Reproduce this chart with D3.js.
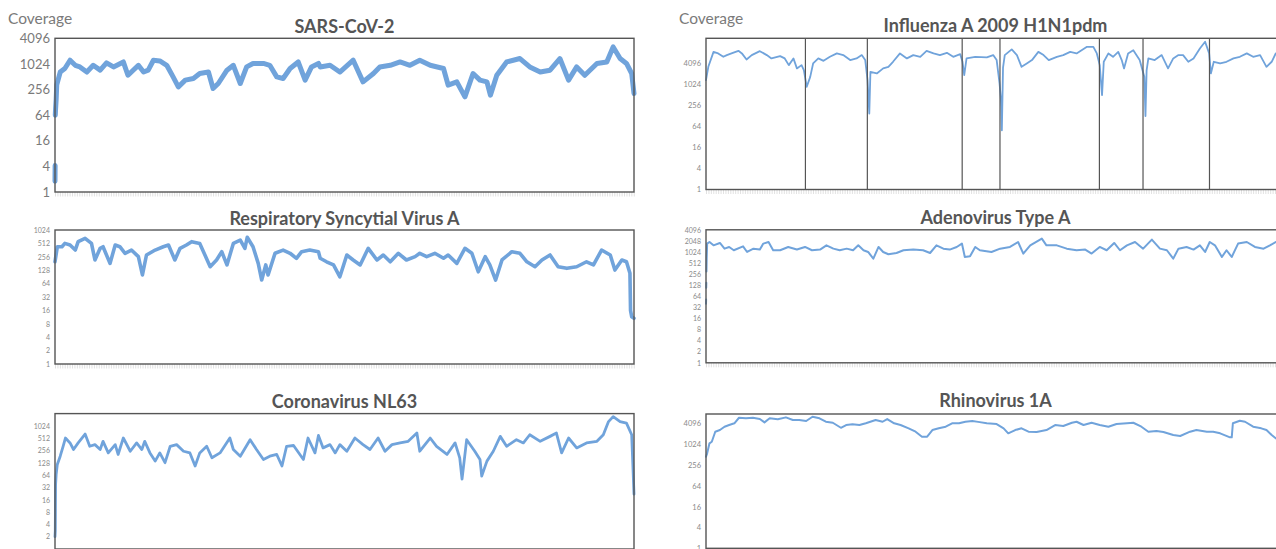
<!DOCTYPE html>
<html><head><meta charset="utf-8">
<script src="https://cdn.jsdelivr.net/npm/d3@7"></script>
<style>body{margin:0;background:#fff;overflow:hidden} svg{display:block}</style>
</head><body><svg id="c" width="1276" height="549"></svg>
<script>
// ---------- DATA (position = % of genome, value = read coverage) ----------
const titles = ["SARS-CoV-2","Influenza A 2009 H1N1pdm","Respiratory Syncytial Virus A","Adenovirus Type A","Coronavirus NL63","Rhinovirus 1A"];

const sarsCoverage = [[0,1.8],[0.02,4.2],[0.03,NaN],[0.05,64],[0.1,90],[0.2,150],[0.3,330],[0.9,660],[1.7,800],[2.6,1250],[3.5,950],[4.3,870],[5.5,660],[6.6,950],[7.8,730],[8.9,1080],[10.1,870],[11.8,1140],[12.6,555],[13.5,730],[14.4,950],[15.3,660],[16.1,730],[17.0,1250],[18.1,1200],[19.3,950],[20.4,507],[21.3,295],[22.5,425],[23.9,465],[25.0,610],[26.5,660],[27.3,270],[28.2,355],[29.7,730],[30.8,950],[32.0,355],[33.1,870],[34.2,1050],[36.0,1050],[37.1,950],[38.3,507],[39.4,465],[40.6,800],[42.0,1140],[43.2,425],[44.3,870],[45.5,1050],[45.8,870],[47.5,950],[49.2,660],[51.5,1250],[53.2,388],[55.0,610],[56.1,870],[57.9,950],[59.6,1140],[61.3,950],[63.0,1250],[64.8,950],[67.1,800],[67.9,324],[69.4,388],[70.8,172],[72.2,610],[73.4,425],[74.6,388],[75.2,189],[76.3,555],[78.0,1140],[80.3,1370],[82.0,870],[83.8,660],[85.5,730],[87.2,1370],[88.7,425],[90.1,870],[91.5,555],[93.6,1050],[95.3,1140],[96.4,2570],[97.6,1370],[98.7,1050],[99.6,610],[100,207]];

const fluCoverage = [[0,1315],[0.4,3150],[1.3,8400],[2.1,7600],[3.0,6080],[3.6,6800],[4.4,7600],[5.6,9000],[6.2,7600],[7.0,5100],[7.9,6800],[9.3,8800],[10.5,6800],[11.3,5470],[12.8,6380],[13.6,5470],[14.3,3520],[15.1,5470],[15.7,2840],[16.5,3520],[16.9,2540],[17.4,848],[18.0,1630],[18.5,3930],[19.4,5470],[20.3,4670],[21.4,6080],[22.6,7600],[23.7,6800],[24.9,4900],[26.0,5470],[26.9,6800],[27.5,4900],[27.9,1315],[28.2,147],[28.4,2270],[29.5,2040],[30.6,2840],[31.5,3150],[32.3,4390],[33.5,7600],[34.7,5470],[35.8,6800],[37.0,6080],[38.1,9000],[39.3,7600],[40.4,6800],[41.6,7900],[42.7,6080],[43.9,7250],[44.3,4390],[44.6,1820],[45.0,5470],[46.5,6080],[48.5,5830],[49.6,6800],[50.2,4900],[50.7,1060],[50.9,440],[51.0,228],[51.1,49],[51.3,3000],[51.6,6800],[52.8,9900],[53.7,6800],[54.5,3150],[55.4,3930],[56.3,4900],[57.4,8400],[58.3,6800],[59.2,4900],[60.6,6080],[61.7,6800],[62.9,8400],[64.0,7600],[65.8,11700],[66.9,11700],[67.5,7600],[68.0,3520],[68.4,490],[68.7,4390],[69.5,7600],[70.3,6080],[71.2,8400],[71.8,4900],[72.2,2840],[72.9,7600],[73.8,9400],[74.9,4900],[75.7,1630],[75.9,124],[76.1,2500],[76.4,5470],[77.5,4900],[78.7,6800],[79.8,2840],[80.7,5470],[81.6,6800],[82.4,6800],[83.3,4390],[84.2,5470],[85.3,10500],[86.2,16300],[86.9,7600],[87.2,2040],[87.7,4390],[88.8,3930],[89.9,4390],[91.1,5470],[92.2,6080],[93.4,7600],[94.5,6080],[95.7,6800],[96.8,3150],[97.7,4390],[98.4,7600],[99.2,6500],[100,5000]];
const fluSegmentLengths = [2341,1458,2233,890,2341,1027,1565,1778];

const rsvCoverage = [[0,198],[0.4,431],[1.2,431],[1.7,512],[2.6,471],[3.5,363],[4.0,560],[5.2,666],[6.3,512],[6.9,217],[7.8,397],[8.3,431],[9.5,182],[10.4,471],[11.2,431],[12.1,307],[13.2,363],[14.4,258],[15.1,100],[15.8,281],[17.3,363],[18.7,431],[19.6,471],[20.7,217],[21.6,397],[22.7,471],[23.6,560],[25.0,512],[26.8,153],[27.9,217],[28.8,333],[29.7,168],[30.8,512],[32.0,609],[32.8,397],[33.2,704],[34.2,431],[35.1,182],[35.7,77],[36.4,168],[36.8,100],[38.0,307],[39.4,363],[40.6,307],[41.7,237],[42.6,333],[44.0,363],[45.5,333],[45.8,237],[46.9,198],[48.1,168],[49.2,91],[50.4,281],[51.5,217],[52.7,168],[54.1,397],[55.6,217],[56.7,281],[57.9,198],[59.3,307],[60.7,217],[62.2,258],[63.0,307],[64.2,258],[65.6,307],[67.1,237],[67.9,281],[69.4,182],[70.8,397],[72.0,307],[73.1,118],[74.3,258],[75.1,168],[76.1,77],[77.2,217],[78.9,333],[80.3,307],[81.5,198],[82.9,153],[84.1,217],[85.5,281],[86.9,153],[88.4,141],[90.1,153],[91.8,198],[93.0,168],[94.4,363],[95.9,281],[96.7,129],[97.9,217],[98.7,198],[99.3,109],[99.4,16],[99.6,11.5],[100,10.6]];

const adenoCoverage = [[0,40],[0.02,52],[0.03,NaN],[0.04,110],[0.06,150],[0.07,NaN],[0.08,300],[0.12,700],[0.2,1730],[0.6,1910],[1.3,1550],[2.4,1800],[3.2,1260],[4.0,1400],[4.8,1140],[6.4,1460],[7.1,1024],[8.2,1260],[9.3,1190],[9.9,1730],[10.8,1910],[11.6,1140],[12.8,1140],[14.2,1400],[15.7,1190],[17.1,1400],[18.3,1140],[19.7,1190],[20.8,1550],[22.0,1260],[23.1,1140],[24.3,1260],[25.4,1140],[26.3,1550],[27.2,1140],[28.0,1024],[28.9,676],[29.8,1400],[30.6,1024],[31.5,890],[32.9,960],[34.1,1140],[35.8,1190],[37.5,1140],[38.7,960],[39.8,1550],[41.0,1260],[42.1,1190],[43.3,1400],[44.2,1730],[44.7,750],[45.6,780],[46.5,1400],[47.3,1140],[49.3,1024],[50.8,1260],[52.5,1400],[53.9,1910],[54.8,925],[56.0,1550],[58.0,2360],[58.8,1550],[60.6,1550],[62.3,1260],[64.0,1140],[65.5,1190],[66.6,925],[68.0,1400],[69.2,1140],[70.5,1800],[71.5,1140],[72.7,1550],[74.1,1910],[75.5,1260],[77.0,2220],[78.4,1260],[79.6,1140],[80.7,676],[81.6,1260],[83.0,1400],[84.2,1190],[85.3,1550],[86.2,1024],[87.0,1910],[87.9,1550],[89.1,750],[89.9,1140],[90.8,750],[91.9,1730],[93.4,1910],[94.8,1400],[96.3,1260],[97.4,1550],[98.4,1910],[100,1700]];

const nl63Coverage = [[0,2],[0.05,2.8],[0.1,38],[0.2,67],[0.4,117],[0.9,186],[1.4,325],[1.8,518],[2.6,393],[3.2,271],[4.0,393],[5.2,648],[6.0,325],[6.9,357],[7.8,271],[8.3,430],[9.2,224],[10.4,357],[10.9,205],[11.8,518],[13.0,246],[14.1,393],[15.0,271],[15.5,430],[16.4,224],[17.3,141],[18.1,224],[19.0,129],[19.9,325],[21.0,357],[22.2,246],[23.3,224],[24.2,107],[25.0,224],[26.2,325],[27.1,170],[28.5,224],[30.2,518],[30.8,271],[32.0,186],[33.7,471],[34.8,271],[36.0,155],[37.1,186],[38.3,205],[39.2,107],[40.0,325],[41.2,340],[42.9,155],[43.7,518],[44.9,224],[45.5,600],[46.3,297],[47.5,357],[48.4,224],[49.2,357],[50.4,246],[51.8,518],[53.2,357],[54.4,271],[55.8,518],[57.0,246],[58.2,357],[59.6,393],[61.0,430],[62.5,686],[63.0,246],[64.8,518],[65.9,325],[67.7,205],[69.1,393],[69.9,170],[70.3,51],[71.1,471],[72.5,246],[73.4,155],[73.7,61],[74.6,141],[75.7,246],[76.9,568],[78.0,325],[79.7,471],[80.9,393],[82.0,622],[83.8,430],[85.5,568],[86.6,686],[87.5,224],[88.7,518],[90.1,297],[91.8,393],[93.6,430],[94.7,622],[95.6,1305],[96.4,1730],[97.6,1305],[98.7,1195],[99.6,622],[100,22]];

const rhinoCoverage = [[0,443],[0.2,555],[0.6,1080],[1.0,1200],[1.6,2340],[2.4,2610],[3.2,3260],[4.0,3650],[4.9,4096],[5.7,5920],[6.9,5700],[8.1,5920],[9.3,5440],[10.1,4360],[11.0,5700],[12.4,5330],[13.8,6080],[15.0,5080],[16.1,5080],[17.3,4770],[18.4,6340],[19.6,5700],[20.7,4540],[21.9,4240],[23.3,3040],[24.2,3650],[25.3,3820],[26.5,3650],[27.6,4096],[29.3,5080],[30.5,4540],[31.3,5440],[32.5,4096],[33.6,3650],[35.0,2930],[36.2,2340],[37.3,1680],[38.2,1680],[39.1,2610],[40.2,2930],[41.4,3260],[42.5,4096],[43.7,4096],[44.8,4540],[46.0,4770],[47.0,4500],[48.5,4096],[50.2,3900],[51.4,2930],[52.2,2100],[53.4,2610],[54.5,2930],[55.7,2340],[57.1,2300],[58.8,2610],[60.3,3650],[61.7,3420],[63.2,4240],[64.0,4540],[65.2,3650],[66.6,4240],[68.0,3650],[69.5,3260],[70.9,3900],[72.7,4096],[73.8,4240],[75.2,3260],[76.4,2340],[77.8,2450],[79.0,2300],[80.7,1870],[81.9,1760],[83.6,2340],[84.7,2610],[86.5,2340],[87.6,2340],[88.8,2100],[90.5,1610],[90.8,1610],[91.0,4096],[92.2,4860],[93.1,4540],[94.5,3260],[95.9,2930],[96.8,2610],[97.7,1870],[98.4,1510],[100,1200]];

const ticksSars  = [1,4,16,64,256,1024,4096];
const ticksFlu   = [1,4,16,64,256,1024,4096];
const ticksRsv   = [1,2,4,8,16,32,64,128,256,512,1024];
const ticksAdeno = [1,2,4,8,16,32,64,128,256,512,1024,2048,4096];
const ticksNl63  = [2,4,8,16,32,64,128,256,512,1024];
const ticksRhino = [1,4,16,64,256,1024,4096];
const yMaxima = [4096, 20500, 1024, 4096, 2048, 7600];

// ---------- LAYOUT ----------
const LINE = "#70a3db", BOX = "#555";
const FONT = "Lato, 'Open Sans', sans-serif";
const svg = d3.select("#c");

const panels = [
  {t:0, data:sarsCoverage, ticks:ticksSars, x0:55, top:38.3, bot:192, fs:13, tc:"#7a7a7a", sw:5,   ty:33,  covX:8},
  {t:1, data:fluCoverage,  ticks:ticksFlu,  x0:706, top:38.3, bot:189.5, fs:7.5, tc:"#8a8a8a", sw:1.8, ty:32, covX:679, seg:fluSegmentLengths},
  {t:2, data:rsvCoverage,  ticks:ticksRsv,  x0:55, top:230, bot:364, fs:7, tc:"#8a8a8a", sw:3.6, ty:225},
  {t:3, data:adenoCoverage,ticks:ticksAdeno,x0:706, top:229.8, bot:362.8, fs:7, tc:"#8a8a8a", sw:2, ty:223.5},
  {t:4, data:nl63Coverage, ticks:ticksNl63, x0:55, top:413.6, bot:549, fs:7, tc:"#8a8a8a", sw:2.8, ty:408},
  {t:5, data:rhinoCoverage,ticks:ticksRhino,x0:706, top:414, bot:548.3, fs:7.5, tc:"#8a8a8a", sw:2, ty:406.5}
];
const W = 579;

panels.forEach(p => {
  const g = svg.append("g");
  const x = d3.scaleLinear().domain([0,100]).range([p.x0, p.x0 + W]);
  const y = d3.scaleLog().base(2).domain([1, yMaxima[p.t]]).range([p.bot, p.top]);

  // minor x ticks
  const xa = g.append("g").attr("transform", `translate(0,${p.bot})`)
    .call(d3.axisBottom(x).tickValues(d3.range(0, 100.001, 0.42)).tickSize(4.5).tickFormat(""));
  xa.select(".domain").remove();
  xa.selectAll("line").attr("stroke", "#d9d9d9").attr("stroke-width", 0.8);

  // y axis labels
  const ya = g.append("g").attr("transform", `translate(${p.x0 - 5},0)`)
    .call(d3.axisLeft(y).tickValues(p.ticks).tickSize(0).tickPadding(0).tickFormat(d3.format("d")));
  ya.select(".domain").remove();
  ya.selectAll("text").attr("fill", p.tc).attr("font-family", FONT).attr("font-size", p.fs);

  // coverage trace
  const line = d3.line().defined(d => !isNaN(d[1])).x(d => x(d[0])).y(d => y(d[1]));
  g.append("path").datum(p.data).attr("d", line).attr("fill", "none")
    .attr("stroke", LINE).attr("stroke-width", p.sw).attr("stroke-linejoin", "round").attr("stroke-linecap", "round");

  // segment boundaries
  if (p.seg) {
    const total = d3.sum(p.seg);
    const cum = d3.cumsum(p.seg).slice(0, -1).map(c => c / total * 100);
    g.selectAll(".seg").data(cum).join("line")
      .attr("x1", d => x(d)).attr("x2", d => x(d)).attr("y1", p.top).attr("y2", p.bot)
      .attr("stroke", BOX).attr("stroke-width", 1.2);
  }

  // frame
  g.append("rect").attr("x", p.x0).attr("y", p.top).attr("width", W).attr("height", p.bot - p.top)
    .attr("fill", "none").attr("stroke", BOX).attr("stroke-width", 1.4);

  // title
  g.append("text").attr("x", p.x0 + W / 2).attr("y", p.ty).attr("text-anchor", "middle")
    .attr("font-family", FONT).attr("font-weight", 700).attr("font-size", 18).attr("fill", "#555")
    .text(titles[p.t]);

  if (p.covX !== undefined) {
    g.append("text").attr("x", p.covX).attr("y", 24).attr("font-family", FONT)
      .attr("font-size", 15.5).attr("fill", "#7a7a7a").text("Coverage");
  }
});
</script></body></html>
